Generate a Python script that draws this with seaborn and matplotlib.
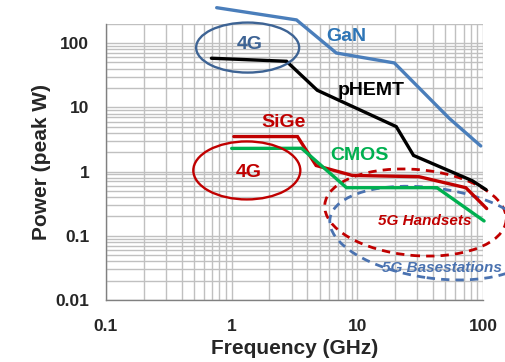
import numpy as np
import pandas as pd
import matplotlib
matplotlib.use("Agg")
import matplotlib.pyplot as plt
import seaborn as sns
from matplotlib.patches import Ellipse
from matplotlib import transforms
from matplotlib.ticker import LogLocator, FixedLocator, FixedFormatter, NullFormatter

# ---------------- data ----------------
series_names = ["GaN", "pHEMT", "SiGe", "CMOS"]
gan_freq = [0.76, 3.28, 6.8, 19.7, 54, 96]
gan_power = [355, 229, 70, 49, 6.7, 2.5]
phemt_freq = [0.69, 2.73, 4.8, 20.4, 28, 82, 106]
phemt_power = [58, 52, 18.4, 5.0, 1.78, 0.72, 0.52]
sige_freq = [1.04, 3.34, 4.7, 9.1, 31, 73, 107]
sige_power = [3.5, 3.5, 1.24, 0.87, 0.83, 0.56, 0.265]
cmos_freq = [1.0, 3.6, 8.2, 43, 102]
cmos_power = [2.29, 2.3, 0.56, 0.56, 0.17]

x_ticks = [0.1, 1, 10, 100]
x_tick_labels = ["0.1", "1", "10", "100"]
y_ticks = [0.01, 0.1, 1, 10, 100]
y_tick_labels = ["0.01", "0.1", "1", "10", "100"]

colors = {"GaN": "#4a7ebb", "pHEMT": "#000000", "SiGe": "#c00000", "CMOS": "#00b050"}

frames = []
for name, fx, py in [("GaN", gan_freq, gan_power), ("pHEMT", phemt_freq, phemt_power),
                     ("SiGe", sige_freq, sige_power), ("CMOS", cmos_freq, cmos_power)]:
    frames.append(pd.DataFrame({"series": name, "freq": fx, "power": py}))
df = pd.concat(frames, ignore_index=True)

# ---------------- figure ----------------
sns.set_style("white")
plt.rcParams["font.family"] = ["Liberation Sans", "DejaVu Sans"]
plt.rcParams["font.weight"] = "bold"

W, H = 506, 362
fig = plt.figure(figsize=(W / 100, H / 100), dpi=100)
ax_left, ax_right, ax_bottom, ax_top = 106, 483, 300, 23.7
ax = fig.add_axes([ax_left / W, 1 - ax_bottom / H, (ax_right - ax_left) / W, (ax_bottom - ax_top) / H])

ax.set_xscale("log")
ax.set_yscale("log")
ax.set_xlim(0.1, 100)
ax.set_ylim(0.01, 200)

sns.lineplot(data=df, x="freq", y="power", hue="series", palette=colors,
             hue_order=series_names, sort=False, estimator=None, legend=False,
             linewidth=2.4, ax=ax, zorder=5)
for ln in ax.lines:
    ln.set_clip_on(False)
    ln.set_solid_joinstyle("miter")

# grid
ax.xaxis.set_minor_locator(LogLocator(base=10, subs=np.arange(2, 10)))
ax.yaxis.set_minor_locator(LogLocator(base=10, subs=np.arange(2, 10)))
ax.xaxis.set_minor_formatter(NullFormatter())
ax.yaxis.set_minor_formatter(NullFormatter())
ax.grid(True, which="both", color="#c0c0c0", linewidth=1.0)
ax.set_axisbelow(True)

ax.xaxis.set_major_locator(FixedLocator(x_ticks))
ax.xaxis.set_major_formatter(FixedFormatter(x_tick_labels))
ax.yaxis.set_major_locator(FixedLocator(y_ticks))
ax.yaxis.set_major_formatter(FixedFormatter(y_tick_labels))
ax.tick_params(which="major", length=5, width=1, color="#808080", labelsize=12.5, pad=7)
ax.tick_params(which="minor", length=0)
ax.tick_params(axis="x", pad=9)
for lab in ax.get_xticklabels() + ax.get_yticklabels():
    lab.set_fontweight("bold")

for s in ["top", "right"]:
    ax.spines[s].set_visible(False)
for s in ["left", "bottom"]:
    ax.spines[s].set_color("#808080")
    ax.spines[s].set_linewidth(1.0)

ax.set_xlabel("Frequency (GHz)", fontsize=15, fontweight="bold", labelpad=3)
ax.set_ylabel("Power (peak W)", fontsize=15, fontweight="bold", labelpad=3)

# ---------------- annotations ----------------
def ellipse(xc, yc, w_px, h_px, angle=0, **kw):
    trans = fig.dpi_scale_trans + transforms.ScaledTranslation(xc, yc, ax.transData)
    e = Ellipse((0, 0), w_px / 100, h_px / 100, angle=angle, transform=trans,
                fill=False, clip_on=False, **kw)
    ax.add_patch(e)

ellipse(1.34, 85, 103, 50, color="#3d6394", linewidth=1.7, zorder=6)
ellipse(1.32, 1.04, 107, 58, color="#c00000", linewidth=1.7, zorder=6)
ellipse(29, 0.23, 182, 86, angle=-5, color="#c00000", linewidth=2.0,
        linestyle=(0, (3, 2.2)), zorder=4)
ellipse(40, 0.11, 208, 90, angle=-8, color="#4a72b0", linewidth=2.0,
        linestyle=(0, (3, 2.2)), zorder=4)

ax.text(8.2, 126, "GaN", color="#2e75b6", fontsize=14, fontweight="bold", ha="center", va="center")
ax.text(12.9, 18.2, "pHEMT", color="#000000", fontsize=14, fontweight="bold", ha="center", va="center")
ax.text(2.59, 5.8, "SiGe", color="#c00000", fontsize=14, fontweight="bold", ha="center", va="center")
ax.text(10.4, 1.77, "CMOS", color="#00b050", fontsize=14, fontweight="bold", ha="center", va="center")
ax.text(1.39, 95, "4G", color="#3d6394", fontsize=14, fontweight="bold", ha="center", va="center")
ax.text(1.36, 0.96, "4G", color="#c00000", fontsize=14, fontweight="bold", ha="center", va="center")
ax.text(34.7, 0.167, "5G Handsets", color="#c00000", fontsize=11, fontweight="bold",
        style="italic", ha="center", va="center", zorder=7)
ax.text(15.8, 0.032, "5G Basestations", color="#4a72b0", fontsize=11, fontweight="bold",
        style="italic", ha="left", va="center", clip_on=False, zorder=7)

fig.savefig("out.png", dpi=100)
